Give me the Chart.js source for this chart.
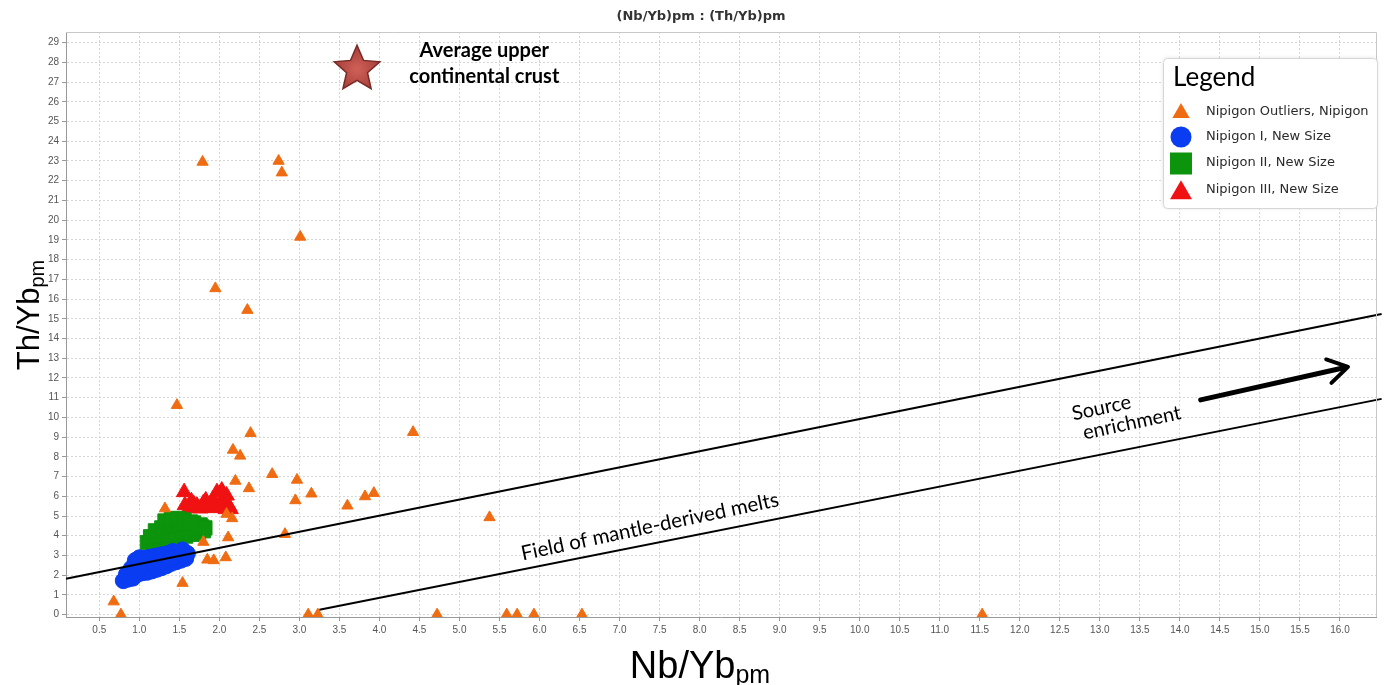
<!DOCTYPE html>
<html>
<head>
<meta charset="utf-8">
<title>Nb/Yb vs Th/Yb</title>
<script src="https://cdn.jsdelivr.net/npm/chart.js@4/dist/chart.umd.min.js"></script>
<style>
  html, body { margin: 0; padding: 0; background: #fff; overflow: hidden; }
  #wrap { position: relative; width: 1389px; height: 685px; }
</style>
</head>
<body>
<div id="wrap"><canvas id="c" width="1389" height="685"></canvas></div>
<script>
// ---- data: (Nb/Yb)pm, (Th/Yb)pm pairs ----
const outliers = [
  [1.79, 22.95], [2.74, 23.0], [2.78, 22.41], [3.01, 19.15], [1.95, 16.54], [2.35, 15.44],
  [1.47, 10.62], [2.39, 9.2], [4.42, 9.25], [2.17, 8.35], [2.26, 8.05], [2.66, 7.12],
  [2.97, 6.83], [2.2, 6.78], [2.37, 6.4], [3.15, 6.13], [3.93, 6.16], [3.82, 5.99],
  [2.95, 5.79], [3.6, 5.52], [1.32, 5.38], [2.09, 5.1], [2.16, 4.88], [5.375, 4.93],
  [2.82, 4.08], [2.11, 3.91], [1.8, 3.68], [2.08, 2.9], [1.85, 2.78], [1.93, 2.75],
  [1.54, 1.6], [0.68, 0.66],
  [0.77, 0], [3.11, 0], [3.23, 0], [4.72, 0], [5.59, 0], [5.72, 0], [5.93, 0], [6.53, 0], [11.53, 0]
];

const nipigonI = [
  [0.80, 1.72], [0.86, 1.80], [0.92, 1.85], [0.98, 2.05], [1.04, 2.12], [1.10, 2.15],
  [1.16, 2.22], [1.22, 2.30], [1.28, 2.38], [1.34, 2.48], [1.40, 2.60], [1.46, 2.68],
  [1.52, 2.76], [1.58, 2.85],
  [0.84, 2.05], [0.90, 2.35], [0.95, 2.75], [1.00, 2.88], [1.06, 2.85], [1.12, 2.90],
  [1.18, 2.95], [1.24, 3.00], [1.30, 3.05], [1.36, 3.10], [1.42, 3.20], [1.48, 3.15],
  [1.54, 3.28], [1.60, 3.10],
  [0.95, 2.25], [1.02, 2.45], [1.08, 2.60], [1.14, 2.50], [1.20, 2.70], [1.26, 2.62],
  [1.32, 2.80], [1.38, 2.78], [1.44, 2.92], [1.50, 2.98], [1.56, 3.00], [1.00, 2.30],
  [1.20, 2.45], [1.40, 2.85]
];

const nipigonII = [
  [1.10, 3.65], [1.18, 3.68], [1.26, 3.70], [1.34, 3.72], [1.42, 3.75], [1.50, 3.85],
  [1.58, 3.98], [1.66, 4.07], [1.74, 4.15], [1.80, 4.25],
  [1.14, 3.95], [1.22, 4.00], [1.30, 4.05], [1.38, 4.05], [1.46, 4.15], [1.54, 4.25],
  [1.62, 4.35], [1.70, 4.40], [1.78, 4.45],
  [1.20, 4.25], [1.28, 4.40], [1.36, 4.50], [1.44, 4.55], [1.52, 4.60], [1.60, 4.62],
  [1.68, 4.65], [1.76, 4.55], [1.82, 4.40],
  [1.32, 4.75], [1.40, 4.85], [1.48, 4.88], [1.56, 4.80], [1.64, 4.70]
];

const nipigonIII = [
  [1.56, 6.21], [1.57, 5.55], [1.62, 5.40], [1.68, 5.60], [1.72, 5.52], [1.76, 5.38],
  [1.80, 5.65], [1.83, 5.79], [1.88, 5.45], [1.92, 5.85], [1.97, 6.21], [2.00, 5.60],
  [2.03, 6.29], [2.06, 5.80], [2.09, 6.04], [2.12, 5.50], [2.14, 5.35], [1.95, 5.40],
  [1.65, 5.75], [2.08, 5.35]
];

// reference features
const upperCrust = [3.72, 27.65];
const mantleFieldUpper = [[0.084, 1.82], [16.52, 15.24]];
const mantleFieldLower = [[3.25, 0.25], [16.52, 10.94]];
const enrichmentArrow = [[14.26, 10.89], [16.1, 12.56]];

// tick labels
const xTicks = [0.5, 1.0, 1.5, 2.0, 2.5, 3.0, 3.5, 4.0, 4.5, 5.0, 5.5, 6.0, 6.5, 7.0, 7.5, 8.0,
  8.5, 9.0, 9.5, 10.0, 10.5, 11.0, 11.5, 12.0, 12.5, 13.0, 13.5, 14.0, 14.5, 15.0, 15.5, 16.0];
const yTicks = [0, 1, 2, 3, 4, 5, 6, 7, 8, 9, 10, 11, 12, 13, 14, 15, 16, 17, 18, 19, 20,
  21, 22, 23, 24, 25, 26, 27, 28, 29];

const seriesNames = ['Nipigon Outliers, Nipigon', 'Nipigon I, New Size', 'Nipigon II, New Size', 'Nipigon III, New Size'];
const seriesColors = ['#ef6c12', '#0a3cf2', '#0c940c', '#f01212'];

const toXY = arr => arr.map(p => ({ x: p[0], y: p[1] }));

function trianglePath(ctx, x, y, r) {
  ctx.beginPath();
  ctx.moveTo(x, y - r);
  ctx.lineTo(x + r * 0.866, y + r * 0.5);
  ctx.lineTo(x - r * 0.866, y + r * 0.5);
  ctx.closePath();
}

function starPath(ctx, cx, cy, R, r) {
  ctx.beginPath();
  for (let i = 0; i < 10; i++) {
    const a = -Math.PI / 2 + i * Math.PI / 5;
    const rad = i % 2 ? r : R;
    const px = cx + Math.cos(a) * rad, py = cy + Math.sin(a) * rad;
    if (i === 0) ctx.moveTo(px, py); else ctx.lineTo(px, py);
  }
  ctx.closePath();
}

const decor = {
  id: 'decor',
  afterDatasetsDraw(chart) {
    const { ctx, chartArea: a, scales: { x, y } } = chart;
    // plot frame (top / right)
    ctx.save();
    ctx.strokeStyle = '#c8c8c8';
    ctx.lineWidth = 1;
    ctx.beginPath();
    ctx.moveTo(a.left, a.top + 0.5); ctx.lineTo(a.right + 0.5, a.top + 0.5); ctx.lineTo(a.right + 0.5, a.bottom);
    ctx.stroke();
    ctx.restore();

    // upper continental crust star
    const sx = x.getPixelForValue(upperCrust[0]), sy = y.getPixelForValue(upperCrust[1]);
    ctx.save();
    const g = ctx.createRadialGradient(sx, sy, 2, sx, sy, 23);
    g.addColorStop(0, '#cc5e55');
    g.addColorStop(1, '#a63f3a');
    starPath(ctx, sx, sy, 24, 11);
    ctx.fillStyle = g;
    ctx.fill();
    ctx.lineWidth = 1.5;
    ctx.strokeStyle = '#7a2a26';
    ctx.stroke();
    ctx.restore();

    ctx.save();
    ctx.fillStyle = '#000';
    ctx.textAlign = 'center';
    ctx.textBaseline = 'middle';
    ctx.font = 'bold 20px Lato';
    const lx = x.getPixelForValue(5.31);
    ctx.fillText('Average upper', lx, y.getPixelForValue(28.6));
    ctx.fillText('continental crust', lx, y.getPixelForValue(27.3));

    // field labels
    const ang = -12 * Math.PI / 180;
    ctx.font = '20.5px Lato';
    ctx.save();
    ctx.translate(x.getPixelForValue(7.38), y.getPixelForValue(4.46));
    ctx.rotate(ang);
    ctx.fillText('Field of mantle-derived melts', 0, 0);
    ctx.restore();
    ctx.font = '20px Lato';
    ctx.save();
    ctx.translate(x.getPixelForValue(13.02), y.getPixelForValue(10.48));
    ctx.rotate(ang);
    ctx.fillText('Source', 0, 0);
    ctx.restore();
    ctx.save();
    ctx.translate(x.getPixelForValue(13.4), y.getPixelForValue(9.72));
    ctx.rotate(ang);
    ctx.fillText('enrichment', 0, 0);
    ctx.restore();
    ctx.restore();

    // enrichment arrow
    const ax0 = x.getPixelForValue(enrichmentArrow[0][0]), ay0 = y.getPixelForValue(enrichmentArrow[0][1]);
    const ax1 = x.getPixelForValue(enrichmentArrow[1][0]), ay1 = y.getPixelForValue(enrichmentArrow[1][1]);
    const th = Math.atan2(ay1 - ay0, ax1 - ax0);
    ctx.save();
    ctx.strokeStyle = '#000';
    ctx.lineCap = 'round';
    ctx.lineJoin = 'round';
    ctx.lineWidth = 5;
    ctx.beginPath();
    ctx.moveTo(ax0, ay0); ctx.lineTo(ax1 - 3 * Math.cos(th), ay1 - 3 * Math.sin(th));
    ctx.stroke();
    ctx.lineWidth = 4;
    ctx.beginPath();
    ctx.moveTo(ax1 + 23 * Math.cos(th + Math.PI - 0.55), ay1 + 23 * Math.sin(th + Math.PI - 0.55));
    ctx.lineTo(ax1, ay1);
    ctx.lineTo(ax1 + 23 * Math.cos(th + Math.PI + 0.55), ay1 + 23 * Math.sin(th + Math.PI + 0.55));
    ctx.stroke();
    ctx.restore();
  },
  afterDraw(chart) {
    const { ctx } = chart;
    ctx.save();
    // chart title
    ctx.fillStyle = '#333';
    ctx.font = 'bold 13px "DejaVu Sans"';
    ctx.textAlign = 'center';
    ctx.textBaseline = 'middle';
    ctx.fillText('(Nb/Yb)pm : (Th/Yb)pm', 701, 17);

    // axis titles with subscripts
    ctx.fillStyle = '#000';
    ctx.textAlign = 'left';
    ctx.textBaseline = 'alphabetic';
    ctx.font = '38px "Liberation Sans"';
    const w1 = ctx.measureText('Nb/Yb').width;
    ctx.font = '25px "Liberation Sans"';
    const w2 = ctx.measureText('pm').width;
    const x0 = 700 - (w1 + w2) / 2;
    ctx.font = '38px "Liberation Sans"';
    ctx.fillText('Nb/Yb', x0, 678);
    ctx.font = '25px "Liberation Sans"';
    ctx.fillText('pm', x0 + w1, 683);

    ctx.save();
    ctx.translate(39, 315);
    ctx.rotate(-Math.PI / 2);
    ctx.font = '31px "Liberation Sans"';
    const v1 = ctx.measureText('Th/Yb').width;
    ctx.font = '20px "Liberation Sans"';
    const v2 = ctx.measureText('pm').width;
    const s0 = -(v1 + v2) / 2;
    ctx.font = '31px "Liberation Sans"';
    ctx.fillText('Th/Yb', s0, 0);
    ctx.font = '20px "Liberation Sans"';
    ctx.fillText('pm', s0 + v1, 5);
    ctx.restore();

    // legend box
    const bx = 1163, by = 58, bw = 214, bh = 150;
    ctx.save();
    ctx.shadowColor = 'rgba(0,0,0,0.12)';
    ctx.shadowBlur = 4;
    ctx.fillStyle = '#fff';
    ctx.beginPath();
    ctx.roundRect(bx, by, bw, bh, 4);
    ctx.fill();
    ctx.restore();
    ctx.strokeStyle = '#d6d6d6';
    ctx.lineWidth = 1;
    ctx.beginPath();
    ctx.roundRect(bx + 0.5, by + 0.5, bw, bh, 4);
    ctx.stroke();

    ctx.fillStyle = '#000';
    ctx.font = '26px Lato';
    ctx.fillText('Legend', 1173, 86);

    const rows = [112, 137, 163, 190];
    const mx = 1181;
    // outliers marker
    ctx.fillStyle = seriesColors[0];
    trianglePath(ctx, mx, rows[0] + 1, 10);
    ctx.fill();
    // Nipigon I marker
    ctx.fillStyle = seriesColors[1];
    ctx.beginPath();
    ctx.arc(mx, rows[1], 10.5, 0, Math.PI * 2);
    ctx.fill();
    // Nipigon II marker
    ctx.fillStyle = seriesColors[2];
    ctx.fillRect(mx - 11, rows[2] - 10.5, 22, 22);
    // Nipigon III marker
    ctx.fillStyle = seriesColors[3];
    trianglePath(ctx, mx, rows[3] + 3, 12.7);
    ctx.fill();

    ctx.fillStyle = '#2a2a2a';
    ctx.font = '13px "DejaVu Sans"';
    ctx.textBaseline = 'middle';
    seriesNames.forEach((n, i) => ctx.fillText(n, 1206, rows[i]));
    ctx.restore();
  }
};

const lineStyle = { showLine: true, borderColor: '#000', borderWidth: 2, pointRadius: 0, fill: false, clip: false, tension: 0 };

new Chart(document.getElementById('c'), {
  type: 'scatter',
  data: {
    datasets: [
      Object.assign({ label: 'field-upper', data: toXY(mantleFieldUpper) }, lineStyle),
      Object.assign({ label: 'field-lower', data: toXY(mantleFieldLower) }, lineStyle),
      { label: seriesNames[0], data: toXY(outliers), pointStyle: 'triangle', pointRadius: 6.5,
        backgroundColor: seriesColors[0], borderColor: seriesColors[0], borderWidth: 1 },
      { label: seriesNames[1], data: toXY(nipigonI), pointStyle: 'circle', pointRadius: 8,
        backgroundColor: seriesColors[1], borderColor: seriesColors[1], borderWidth: 1 },
      { label: seriesNames[2], data: toXY(nipigonII), pointStyle: 'rect', pointRadius: 10,
        backgroundColor: seriesColors[2], borderColor: seriesColors[2], borderWidth: 1 },
      { label: seriesNames[3], data: toXY(nipigonIII), pointStyle: 'triangle', pointRadius: 9,
        backgroundColor: seriesColors[3], borderColor: seriesColors[3], borderWidth: 1 }
    ]
  },
  options: {
    responsive: false,
    animation: false,
    events: [],
    devicePixelRatio: 1,
    layout: { padding: { left: 0, right: 13, top: 32, bottom: 0 } },
    plugins: { legend: { display: false }, tooltip: { enabled: false }, title: { display: false } },
    scales: {
      x: {
        type: 'linear', min: 0.084, max: 16.45,
        afterBuildTicks: s => { s.ticks = xTicks.map(v => ({ value: v })); },
        afterFit: s => { s.height = 68; },
        ticks: { font: { family: 'Liberation Sans', size: 10 }, color: '#555', padding: 3,
          maxRotation: 0, autoSkip: false, callback: v => Number(v).toFixed(1) },
        grid: { color: '#d6d6d6', lineWidth: 1, tickColor: '#999', tickLength: 4 },
        border: { color: '#999', width: 1, dash: [2, 2] }
      },
      y: {
        type: 'linear', min: -0.12, max: 29.54,
        afterBuildTicks: s => { s.ticks = yTicks.map(v => ({ value: v })); },
        afterFit: s => { s.width = 66; },
        ticks: { font: { family: 'Liberation Sans', size: 10 }, color: '#555', padding: 3,
          autoSkip: false, callback: v => String(v) },
        grid: { color: '#d6d6d6', lineWidth: 1, tickColor: '#999', tickLength: 4 },
        border: { color: '#999', width: 1, dash: [2, 2] }
      }
    }
  },
  plugins: [decor]
});
</script>
</body>
</html>
